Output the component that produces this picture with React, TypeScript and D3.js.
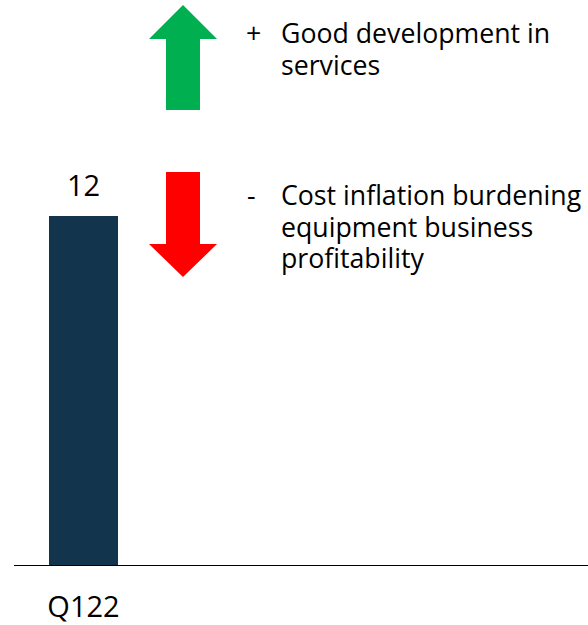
import React from "react";
import * as d3 from "d3";

const categories = ["Q122"];
const values = [12];
const positives = ["Good development in", "services"];
const negatives = ["Cost inflation burdening", "equipment business", "profitability"];

const W = 588;
const H = 625;
const FONT = "'Open Sans', 'Noto Sans', sans-serif";

export default function App() {
  const x = d3.scaleBand<string>().domain(categories).range([14, 153]).paddingInner(0).paddingOuter(0.507);
  const y = d3.scaleLinear().domain([0, 12]).range([565, 216]);
  const bw = x.bandwidth();

  const upArrow = d3.path();
  upArrow.moveTo(183, 5);
  upArrow.lineTo(217, 39);
  upArrow.lineTo(200, 39);
  upArrow.lineTo(200, 110);
  upArrow.lineTo(166, 110);
  upArrow.lineTo(166, 39);
  upArrow.lineTo(149, 39);
  upArrow.closePath();

  const downArrow = d3.path();
  downArrow.moveTo(166, 172);
  downArrow.lineTo(200, 172);
  downArrow.lineTo(200, 244);
  downArrow.lineTo(217, 244);
  downArrow.lineTo(183, 277);
  downArrow.lineTo(149, 244);
  downArrow.lineTo(166, 244);
  downArrow.closePath();

  return (
    <svg width={W} height={H} style={{ position: "absolute", left: 0, top: 0, display: "block" }} fontFamily={FONT}>
      <rect width={W} height={H} fill="#ffffff" />
      {categories.map((c, i) => (
        <g key={c}>
          <rect x={x(c)} y={y(values[i])} width={bw} height={y(0) - y(values[i])} fill="#12344d" />
          <text x={(x(c) as number) + bw / 2} y={y(values[i]) - 20} textAnchor="middle" fontSize={29} fill="#000">
            {values[i]}
          </text>
          <text x={(x(c) as number) + bw / 2} y={617} textAnchor="middle" fontSize={29} fill="#000">
            {c}
          </text>
        </g>
      ))}
      <line x1={14} x2={588} y1={y(0) + 0.5} y2={y(0) + 0.5} stroke="#000" strokeWidth={1} />
      <path d={upArrow.toString()} fill="#00b050" />
      <path d={downArrow.toString()} fill="#ff0000" />
      <text x={246} y={43} fontSize={26.7} fill="#000">+</text>
      {positives.map((t, i) => (
        <text key={t} x={281} y={43 + i * 32} fontSize={26.7} fill="#000">{t}</text>
      ))}
      <text x={247} y={205} fontSize={26.7} fill="#000">-</text>
      {negatives.map((t, i) => (
        <text key={t} x={281} y={205 + i * 31.5} fontSize={26.7} fill="#000">{t}</text>
      ))}
    </svg>
  );
}
